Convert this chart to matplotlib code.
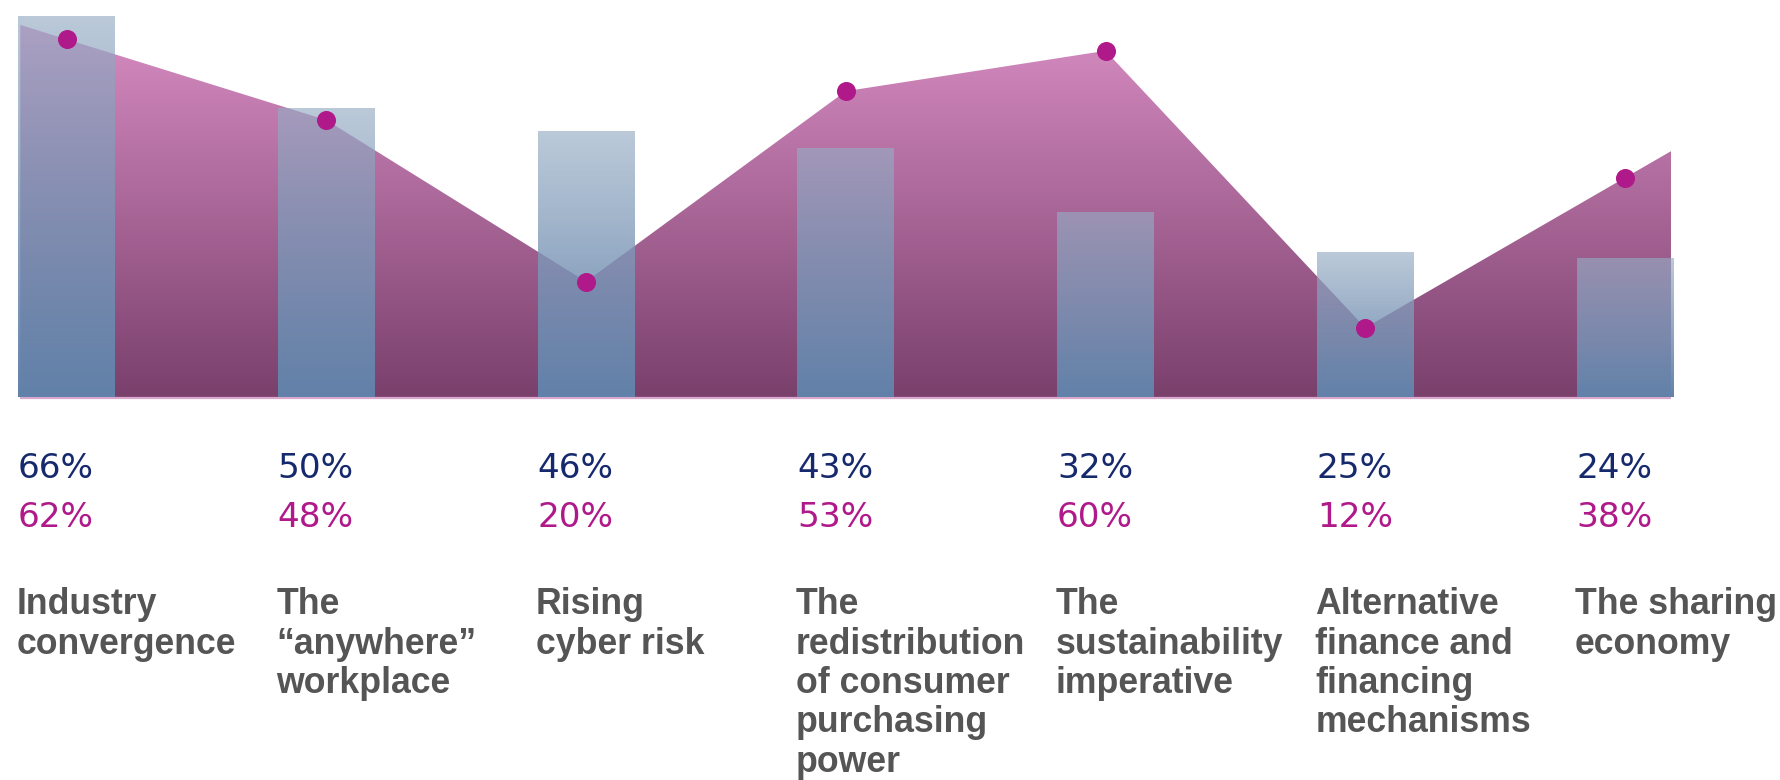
import numpy as np
import matplotlib.pyplot as plt
import matplotlib.transforms as mtransforms
from matplotlib.patches import Polygon
from matplotlib.colors import to_rgba

# ── DATA ───────────────────────────────────────────────────────────────────
CATEGORIES = ['Industry\nconvergence',
              'The\n“anywhere”\nworkplace',
              'Rising\ncyber risk',
              'The\nredistribution\nof consumer\npurchasing\npower',
              'The\nsustainability\nimperative',
              'Alternative\nfinance and\nfinancing\nmechanisms',
              'The sharing\neconomy']
BAR_VALUES  = [66, 50, 46, 43, 32, 25, 24]   # blue bars
LINE_VALUES = [62, 48, 20, 53, 60, 12, 38]   # magenta area / dots

# ── STYLE ──────────────────────────────────────────────────────────────────
W, H = 1781, 780
NAVY    = '#15296c'
MAGENTA = '#b0198a'
GREY    = '#555555'
AREA_TOP, AREA_BOTTOM = (0.843, 0.549, 0.761, 1.0), (0.478, 0.251, 0.424, 1.0)
BAR_TOP, BAR_BOTTOM   = (0.588, 0.675, 0.769, 0.65), (0.384, 0.510, 0.667, 1.0)
BAR_W    = 0.373
AREA_PAD = 0.178

# pixel layout of the reference: first bar centre, bar pitch, baseline, px per %
X0_PX, PITCH_PX, BASE_PX, PX_PER = 66.5, 259.75, 397, 5.77


def vgrad(top, bottom, n=256):
    t = np.linspace(0, 1, n)[:, None, None]
    top, bottom = np.array(to_rgba(top)), np.array(to_rgba(bottom))
    return top * (1 - t) + bottom * t


fig = plt.figure(figsize=(W / 100, H / 100), dpi=100)
ax = fig.add_axes([0, 0, 1, 1])
ax.axis('off')

x = np.arange(len(BAR_VALUES))
vals = np.array(LINE_VALUES, dtype=float)

# ── AREA (gradient clipped to polygon) ─────────────────────────────────────
xl, xr = -AREA_PAD, x[-1] + AREA_PAD
yl = vals[0] + (vals[0] - vals[1]) * AREA_PAD
yr = vals[-1] + (vals[-1] - vals[-2]) * AREA_PAD
px = np.concatenate([[xl], x, [xr]])
py = np.concatenate([[yl], vals, [yr]])
poly = Polygon(list(zip(px, py)) + [(xr, 0), (xl, 0)], closed=True,
               facecolor='none', edgecolor='none')
ax.add_patch(poly)
img = ax.imshow(vgrad(AREA_TOP, AREA_BOTTOM), extent=(xl, xr, 0, py.max()),
                aspect='auto', interpolation='bilinear', zorder=1)
img.set_clip_path(poly)
ax.plot([xl, xr], [-0.15, -0.15], color='#dba8cd', lw=1.6,
        solid_capstyle='butt', zorder=1.5)

# ── BARS (semi-transparent vertical gradient) ──────────────────────────────
bars = ax.bar(x, BAR_VALUES, width=BAR_W, color='none', zorder=2)
for rect in bars:
    bx, bw, bh = rect.get_x(), rect.get_width(), rect.get_height()
    ax.imshow(vgrad(BAR_TOP, BAR_BOTTOM), extent=(bx, bx + bw, 0, bh),
              aspect='auto', interpolation='bilinear', zorder=2)

# ── DOTS ───────────────────────────────────────────────────────────────────
ax.plot(x, LINE_VALUES, 'o', ms=13.7, color=MAGENTA, mew=0, zorder=4)

# ── LIMITS (after imshow, which autoscales) ────────────────────────────────
ax.set_xlim(-X0_PX / PITCH_PX, (W - X0_PX) / PITCH_PX)
ax.set_ylim(-(H - BASE_PX) / PX_PER, BASE_PX / PX_PER)

# ── TEXT ───────────────────────────────────────────────────────────────────
trans = mtransforms.blended_transform_factory(ax.transData, ax.transAxes)
for i, cat in enumerate(CATEGORIES):
    left = x[i] - BAR_W / 2
    ax.text(left, 1 - 478.3 / H, f'{BAR_VALUES[i]}%', transform=trans,
            fontsize=24.7, color=NAVY, family='DejaVu Sans',
            va='baseline', ha='left')
    ax.text(left, 1 - 527.3 / H, f'{LINE_VALUES[i]}%', transform=trans,
            fontsize=24.7, color=MAGENTA, family='DejaVu Sans',
            va='baseline', ha='left')
    for j, line in enumerate(cat.split('\n')):
        ax.text(left - 0.006, 1 - (614 + 39.5 * j) / H, line, transform=trans,
                fontsize=25.7, color=GREY, family='Liberation Sans',
                fontweight='bold', va='baseline', ha='left')

fig.savefig('out.png', dpi=100)
